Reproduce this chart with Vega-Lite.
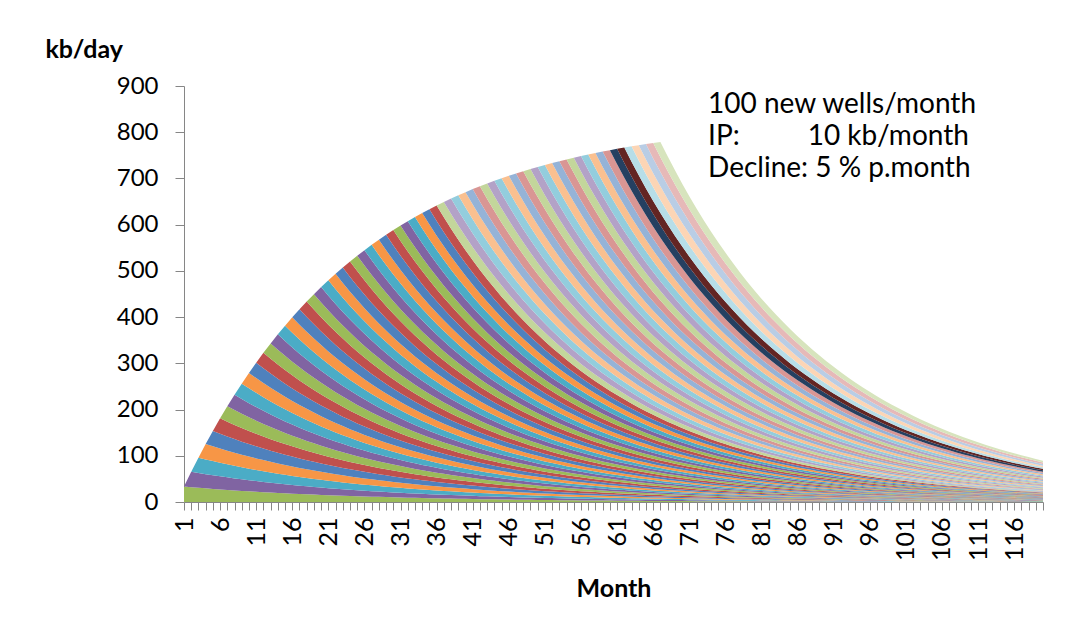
{
"$schema":"https://vega.github.io/schema/vega-lite/v6.json",
"width":859,"height":416,
"autosize":"none",
"padding":{"left":184,"top":86,"right":49,"bottom":134},
"background":"white",
"config":{"view":{"stroke":null},"font":"Lato"},
"layer":[
{
"data":{"values":"c,001,002,003,004,005,006,007,008,009,010,011,012,013,014,015,016,017,018,019,020,021,022,023,024,025,026,027,028,029,030,031,032,033,034,035,036,037,038,039,040,041,042,043,044,045,046,047,048,049,050,051,052,053,054,055,056,057,058,059,060,061,062,063,064,065,066,067,068,069,070,071,072,073,074,075,076,077,078,079,080,081,082,083,084,085,086,087,088,089,090,091,092,093,094,095,096,097,098,099,100,101,102,103,104,105,106,107,108,109,110,111,112,113,114,115,116,117,118,119,120\n1,33.3,32,30.7,29.5,28.3,27.2,26.1,25,24,23.1,22.2,21.3,20.4,19.6,18.8,18.1,17.3,16.7,16,15.3,14.7,14.1,13.6,13,12.5,12,11.5,11.1,10.6,10.2,9.8,9.4,9,8.7,8.3,8,7.7,7.4,7.1,6.8,6.5,6.2,6,5.8,5.5,5.3,5.1,4.9,4.7,4.5,4.3,4.2,4,3.8,3.7,3.5,3.4,3.3,3.1,3,2.9,2.8,2.6,2.5,2.4,2.3,2.3,2.2,2.1,2,1.9,1.8,1.8,1.7,1.6,1.6,1.5,1.4,1.4,1.3,1.3,1.2,1.2,1.1,1.1,1,1,1,.9,.9,.8,.8,.8,.7,.7,.7,.7,.6,.6,.6,.6,.5,.5,.5,.5,.5,.4,.4,.4,.4,.4,.4,.3,.3,.3,.3,.3,.3,.3,.3\n2,,33.3,32,30.7,29.5,28.3,27.2,26.1,25,24,23.1,22.2,21.3,20.4,19.6,18.8,18.1,17.3,16.7,16,15.3,14.7,14.1,13.6,13,12.5,12,11.5,11.1,10.6,10.2,9.8,9.4,9,8.7,8.3,8,7.7,7.4,7.1,6.8,6.5,6.2,6,5.8,5.5,5.3,5.1,4.9,4.7,4.5,4.3,4.2,4,3.8,3.7,3.5,3.4,3.3,3.1,3,2.9,2.8,2.6,2.5,2.4,2.3,2.3,2.2,2.1,2,1.9,1.8,1.8,1.7,1.6,1.6,1.5,1.4,1.4,1.3,1.3,1.2,1.2,1.1,1.1,1,1,1,.9,.9,.8,.8,.8,.7,.7,.7,.7,.6,.6,.6,.6,.5,.5,.5,.5,.5,.4,.4,.4,.4,.4,.4,.3,.3,.3,.3,.3,.3,.3\n3,,,33.3,32,30.7,29.5,28.3,27.2,26.1,25,24,23.1,22.2,21.3,20.4,19.6,18.8,18.1,17.3,16.7,16,15.3,14.7,14.1,13.6,13,12.5,12,11.5,11.1,10.6,10.2,9.8,9.4,9,8.7,8.3,8,7.7,7.4,7.1,6.8,6.5,6.2,6,5.8,5.5,5.3,5.1,4.9,4.7,4.5,4.3,4.2,4,3.8,3.7,3.5,3.4,3.3,3.1,3,2.9,2.8,2.6,2.5,2.4,2.3,2.3,2.2,2.1,2,1.9,1.8,1.8,1.7,1.6,1.6,1.5,1.4,1.4,1.3,1.3,1.2,1.2,1.1,1.1,1,1,1,.9,.9,.8,.8,.8,.7,.7,.7,.7,.6,.6,.6,.6,.5,.5,.5,.5,.5,.4,.4,.4,.4,.4,.4,.3,.3,.3,.3,.3,.3\n4,,,,33.3,32,30.7,29.5,28.3,27.2,26.1,25,24,23.1,22.2,21.3,20.4,19.6,18.8,18.1,17.3,16.7,16,15.3,14.7,14.1,13.6,13,12.5,12,11.5,11.1,10.6,10.2,9.8,9.4,9,8.7,8.3,8,7.7,7.4,7.1,6.8,6.5,6.2,6,5.8,5.5,5.3,5.1,4.9,4.7,4.5,4.3,4.2,4,3.8,3.7,3.5,3.4,3.3,3.1,3,2.9,2.8,2.6,2.5,2.4,2.3,2.3,2.2,2.1,2,1.9,1.8,1.8,1.7,1.6,1.6,1.5,1.4,1.4,1.3,1.3,1.2,1.2,1.1,1.1,1,1,1,.9,.9,.8,.8,.8,.7,.7,.7,.7,.6,.6,.6,.6,.5,.5,.5,.5,.5,.4,.4,.4,.4,.4,.4,.3,.3,.3,.3,.3\n5,,,,,33.3,32,30.7,29.5,28.3,27.2,26.1,25,24,23.1,22.2,21.3,20.4,19.6,18.8,18.1,17.3,16.7,16,15.3,14.7,14.1,13.6,13,12.5,12,11.5,11.1,10.6,10.2,9.8,9.4,9,8.7,8.3,8,7.7,7.4,7.1,6.8,6.5,6.2,6,5.8,5.5,5.3,5.1,4.9,4.7,4.5,4.3,4.2,4,3.8,3.7,3.5,3.4,3.3,3.1,3,2.9,2.8,2.6,2.5,2.4,2.3,2.3,2.2,2.1,2,1.9,1.8,1.8,1.7,1.6,1.6,1.5,1.4,1.4,1.3,1.3,1.2,1.2,1.1,1.1,1,1,1,.9,.9,.8,.8,.8,.7,.7,.7,.7,.6,.6,.6,.6,.5,.5,.5,.5,.5,.4,.4,.4,.4,.4,.4,.3,.3,.3,.3\n6,,,,,,33.3,32,30.7,29.5,28.3,27.2,26.1,25,24,23.1,22.2,21.3,20.4,19.6,18.8,18.1,17.3,16.7,16,15.3,14.7,14.1,13.6,13,12.5,12,11.5,11.1,10.6,10.2,9.8,9.4,9,8.7,8.3,8,7.7,7.4,7.1,6.8,6.5,6.2,6,5.8,5.5,5.3,5.1,4.9,4.7,4.5,4.3,4.2,4,3.8,3.7,3.5,3.4,3.3,3.1,3,2.9,2.8,2.6,2.5,2.4,2.3,2.3,2.2,2.1,2,1.9,1.8,1.8,1.7,1.6,1.6,1.5,1.4,1.4,1.3,1.3,1.2,1.2,1.1,1.1,1,1,1,.9,.9,.8,.8,.8,.7,.7,.7,.7,.6,.6,.6,.6,.5,.5,.5,.5,.5,.4,.4,.4,.4,.4,.4,.3,.3,.3\n7,,,,,,,33.3,32,30.7,29.5,28.3,27.2,26.1,25,24,23.1,22.2,21.3,20.4,19.6,18.8,18.1,17.3,16.7,16,15.3,14.7,14.1,13.6,13,12.5,12,11.5,11.1,10.6,10.2,9.8,9.4,9,8.7,8.3,8,7.7,7.4,7.1,6.8,6.5,6.2,6,5.8,5.5,5.3,5.1,4.9,4.7,4.5,4.3,4.2,4,3.8,3.7,3.5,3.4,3.3,3.1,3,2.9,2.8,2.6,2.5,2.4,2.3,2.3,2.2,2.1,2,1.9,1.8,1.8,1.7,1.6,1.6,1.5,1.4,1.4,1.3,1.3,1.2,1.2,1.1,1.1,1,1,1,.9,.9,.8,.8,.8,.7,.7,.7,.7,.6,.6,.6,.6,.5,.5,.5,.5,.5,.4,.4,.4,.4,.4,.4,.3,.3\n8,,,,,,,,33.3,32,30.7,29.5,28.3,27.2,26.1,25,24,23.1,22.2,21.3,20.4,19.6,18.8,18.1,17.3,16.7,16,15.3,14.7,14.1,13.6,13,12.5,12,11.5,11.1,10.6,10.2,9.8,9.4,9,8.7,8.3,8,7.7,7.4,7.1,6.8,6.5,6.2,6,5.8,5.5,5.3,5.1,4.9,4.7,4.5,4.3,4.2,4,3.8,3.7,3.5,3.4,3.3,3.1,3,2.9,2.8,2.6,2.5,2.4,2.3,2.3,2.2,2.1,2,1.9,1.8,1.8,1.7,1.6,1.6,1.5,1.4,1.4,1.3,1.3,1.2,1.2,1.1,1.1,1,1,1,.9,.9,.8,.8,.8,.7,.7,.7,.7,.6,.6,.6,.6,.5,.5,.5,.5,.5,.4,.4,.4,.4,.4,.4,.3\n9,,,,,,,,,33.3,32,30.7,29.5,28.3,27.2,26.1,25,24,23.1,22.2,21.3,20.4,19.6,18.8,18.1,17.3,16.7,16,15.3,14.7,14.1,13.6,13,12.5,12,11.5,11.1,10.6,10.2,9.8,9.4,9,8.7,8.3,8,7.7,7.4,7.1,6.8,6.5,6.2,6,5.8,5.5,5.3,5.1,4.9,4.7,4.5,4.3,4.2,4,3.8,3.7,3.5,3.4,3.3,3.1,3,2.9,2.8,2.6,2.5,2.4,2.3,2.3,2.2,2.1,2,1.9,1.8,1.8,1.7,1.6,1.6,1.5,1.4,1.4,1.3,1.3,1.2,1.2,1.1,1.1,1,1,1,.9,.9,.8,.8,.8,.7,.7,.7,.7,.6,.6,.6,.6,.5,.5,.5,.5,.5,.4,.4,.4,.4,.4,.4\n10,,,,,,,,,,33.3,32,30.7,29.5,28.3,27.2,26.1,25,24,23.1,22.2,21.3,20.4,19.6,18.8,18.1,17.3,16.7,16,15.3,14.7,14.1,13.6,13,12.5,12,11.5,11.1,10.6,10.2,9.8,9.4,9,8.7,8.3,8,7.7,7.4,7.1,6.8,6.5,6.2,6,5.8,5.5,5.3,5.1,4.9,4.7,4.5,4.3,4.2,4,3.8,3.7,3.5,3.4,3.3,3.1,3,2.9,2.8,2.6,2.5,2.4,2.3,2.3,2.2,2.1,2,1.9,1.8,1.8,1.7,1.6,1.6,1.5,1.4,1.4,1.3,1.3,1.2,1.2,1.1,1.1,1,1,1,.9,.9,.8,.8,.8,.7,.7,.7,.7,.6,.6,.6,.6,.5,.5,.5,.5,.5,.4,.4,.4,.4,.4\n11,,,,,,,,,,,33.3,32,30.7,29.5,28.3,27.2,26.1,25,24,23.1,22.2,21.3,20.4,19.6,18.8,18.1,17.3,16.7,16,15.3,14.7,14.1,13.6,13,12.5,12,11.5,11.1,10.6,10.2,9.8,9.4,9,8.7,8.3,8,7.7,7.4,7.1,6.8,6.5,6.2,6,5.8,5.5,5.3,5.1,4.9,4.7,4.5,4.3,4.2,4,3.8,3.7,3.5,3.4,3.3,3.1,3,2.9,2.8,2.6,2.5,2.4,2.3,2.3,2.2,2.1,2,1.9,1.8,1.8,1.7,1.6,1.6,1.5,1.4,1.4,1.3,1.3,1.2,1.2,1.1,1.1,1,1,1,.9,.9,.8,.8,.8,.7,.7,.7,.7,.6,.6,.6,.6,.5,.5,.5,.5,.5,.4,.4,.4,.4\n12,,,,,,,,,,,,33.3,32,30.7,29.5,28.3,27.2,26.1,25,24,23.1,22.2,21.3,20.4,19.6,18.8,18.1,17.3,16.7,16,15.3,14.7,14.1,13.6,13,12.5,12,11.5,11.1,10.6,10.2,9.8,9.4,9,8.7,8.3,8,7.7,7.4,7.1,6.8,6.5,6.2,6,5.8,5.5,5.3,5.1,4.9,4.7,4.5,4.3,4.2,4,3.8,3.7,3.5,3.4,3.3,3.1,3,2.9,2.8,2.6,2.5,2.4,2.3,2.3,2.2,2.1,2,1.9,1.8,1.8,1.7,1.6,1.6,1.5,1.4,1.4,1.3,1.3,1.2,1.2,1.1,1.1,1,1,1,.9,.9,.8,.8,.8,.7,.7,.7,.7,.6,.6,.6,.6,.5,.5,.5,.5,.5,.4,.4,.4\n13,,,,,,,,,,,,,33.3,32,30.7,29.5,28.3,27.2,26.1,25,24,23.1,22.2,21.3,20.4,19.6,18.8,18.1,17.3,16.7,16,15.3,14.7,14.1,13.6,13,12.5,12,11.5,11.1,10.6,10.2,9.8,9.4,9,8.7,8.3,8,7.7,7.4,7.1,6.8,6.5,6.2,6,5.8,5.5,5.3,5.1,4.9,4.7,4.5,4.3,4.2,4,3.8,3.7,3.5,3.4,3.3,3.1,3,2.9,2.8,2.6,2.5,2.4,2.3,2.3,2.2,2.1,2,1.9,1.8,1.8,1.7,1.6,1.6,1.5,1.4,1.4,1.3,1.3,1.2,1.2,1.1,1.1,1,1,1,.9,.9,.8,.8,.8,.7,.7,.7,.7,.6,.6,.6,.6,.5,.5,.5,.5,.5,.4,.4\n14,,,,,,,,,,,,,,33.3,32,30.7,29.5,28.3,27.2,26.1,25,24,23.1,22.2,21.3,20.4,19.6,18.8,18.1,17.3,16.7,16,15.3,14.7,14.1,13.6,13,12.5,12,11.5,11.1,10.6,10.2,9.8,9.4,9,8.7,8.3,8,7.7,7.4,7.1,6.8,6.5,6.2,6,5.8,5.5,5.3,5.1,4.9,4.7,4.5,4.3,4.2,4,3.8,3.7,3.5,3.4,3.3,3.1,3,2.9,2.8,2.6,2.5,2.4,2.3,2.3,2.2,2.1,2,1.9,1.8,1.8,1.7,1.6,1.6,1.5,1.4,1.4,1.3,1.3,1.2,1.2,1.1,1.1,1,1,1,.9,.9,.8,.8,.8,.7,.7,.7,.7,.6,.6,.6,.6,.5,.5,.5,.5,.5,.4\n15,,,,,,,,,,,,,,,33.3,32,30.7,29.5,28.3,27.2,26.1,25,24,23.1,22.2,21.3,20.4,19.6,18.8,18.1,17.3,16.7,16,15.3,14.7,14.1,13.6,13,12.5,12,11.5,11.1,10.6,10.2,9.8,9.4,9,8.7,8.3,8,7.7,7.4,7.1,6.8,6.5,6.2,6,5.8,5.5,5.3,5.1,4.9,4.7,4.5,4.3,4.2,4,3.8,3.7,3.5,3.4,3.3,3.1,3,2.9,2.8,2.6,2.5,2.4,2.3,2.3,2.2,2.1,2,1.9,1.8,1.8,1.7,1.6,1.6,1.5,1.4,1.4,1.3,1.3,1.2,1.2,1.1,1.1,1,1,1,.9,.9,.8,.8,.8,.7,.7,.7,.7,.6,.6,.6,.6,.5,.5,.5,.5,.5\n16,,,,,,,,,,,,,,,,33.3,32,30.7,29.5,28.3,27.2,26.1,25,24,23.1,22.2,21.3,20.4,19.6,18.8,18.1,17.3,16.7,16,15.3,14.7,14.1,13.6,13,12.5,12,11.5,11.1,10.6,10.2,9.8,9.4,9,8.7,8.3,8,7.7,7.4,7.1,6.8,6.5,6.2,6,5.8,5.5,5.3,5.1,4.9,4.7,4.5,4.3,4.2,4,3.8,3.7,3.5,3.4,3.3,3.1,3,2.9,2.8,2.6,2.5,2.4,2.3,2.3,2.2,2.1,2,1.9,1.8,1.8,1.7,1.6,1.6,1.5,1.4,1.4,1.3,1.3,1.2,1.2,1.1,1.1,1,1,1,.9,.9,.8,.8,.8,.7,.7,.7,.7,.6,.6,.6,.6,.5,.5,.5,.5\n17,,,,,,,,,,,,,,,,,33.3,32,30.7,29.5,28.3,27.2,26.1,25,24,23.1,22.2,21.3,20.4,19.6,18.8,18.1,17.3,16.7,16,15.3,14.7,14.1,13.6,13,12.5,12,11.5,11.1,10.6,10.2,9.8,9.4,9,8.7,8.3,8,7.7,7.4,7.1,6.8,6.5,6.2,6,5.8,5.5,5.3,5.1,4.9,4.7,4.5,4.3,4.2,4,3.8,3.7,3.5,3.4,3.3,3.1,3,2.9,2.8,2.6,2.5,2.4,2.3,2.3,2.2,2.1,2,1.9,1.8,1.8,1.7,1.6,1.6,1.5,1.4,1.4,1.3,1.3,1.2,1.2,1.1,1.1,1,1,1,.9,.9,.8,.8,.8,.7,.7,.7,.7,.6,.6,.6,.6,.5,.5,.5\n18,,,,,,,,,,,,,,,,,,33.3,32,30.7,29.5,28.3,27.2,26.1,25,24,23.1,22.2,21.3,20.4,19.6,18.8,18.1,17.3,16.7,16,15.3,14.7,14.1,13.6,13,12.5,12,11.5,11.1,10.6,10.2,9.8,9.4,9,8.7,8.3,8,7.7,7.4,7.1,6.8,6.5,6.2,6,5.8,5.5,5.3,5.1,4.9,4.7,4.5,4.3,4.2,4,3.8,3.7,3.5,3.4,3.3,3.1,3,2.9,2.8,2.6,2.5,2.4,2.3,2.3,2.2,2.1,2,1.9,1.8,1.8,1.7,1.6,1.6,1.5,1.4,1.4,1.3,1.3,1.2,1.2,1.1,1.1,1,1,1,.9,.9,.8,.8,.8,.7,.7,.7,.7,.6,.6,.6,.6,.5,.5\n19,,,,,,,,,,,,,,,,,,,33.3,32,30.7,29.5,28.3,27.2,26.1,25,24,23.1,22.2,21.3,20.4,19.6,18.8,18.1,17.3,16.7,16,15.3,14.7,14.1,13.6,13,12.5,12,11.5,11.1,10.6,10.2,9.8,9.4,9,8.7,8.3,8,7.7,7.4,7.1,6.8,6.5,6.2,6,5.8,5.5,5.3,5.1,4.9,4.7,4.5,4.3,4.2,4,3.8,3.7,3.5,3.4,3.3,3.1,3,2.9,2.8,2.6,2.5,2.4,2.3,2.3,2.2,2.1,2,1.9,1.8,1.8,1.7,1.6,1.6,1.5,1.4,1.4,1.3,1.3,1.2,1.2,1.1,1.1,1,1,1,.9,.9,.8,.8,.8,.7,.7,.7,.7,.6,.6,.6,.6,.5\n20,,,,,,,,,,,,,,,,,,,,33.3,32,30.7,29.5,28.3,27.2,26.1,25,24,23.1,22.2,21.3,20.4,19.6,18.8,18.1,17.3,16.7,16,15.3,14.7,14.1,13.6,13,12.5,12,11.5,11.1,10.6,10.2,9.8,9.4,9,8.7,8.3,8,7.7,7.4,7.1,6.8,6.5,6.2,6,5.8,5.5,5.3,5.1,4.9,4.7,4.5,4.3,4.2,4,3.8,3.7,3.5,3.4,3.3,3.1,3,2.9,2.8,2.6,2.5,2.4,2.3,2.3,2.2,2.1,2,1.9,1.8,1.8,1.7,1.6,1.6,1.5,1.4,1.4,1.3,1.3,1.2,1.2,1.1,1.1,1,1,1,.9,.9,.8,.8,.8,.7,.7,.7,.7,.6,.6,.6,.6\n21,,,,,,,,,,,,,,,,,,,,,33.3,32,30.7,29.5,28.3,27.2,26.1,25,24,23.1,22.2,21.3,20.4,19.6,18.8,18.1,17.3,16.7,16,15.3,14.7,14.1,13.6,13,12.5,12,11.5,11.1,10.6,10.2,9.8,9.4,9,8.7,8.3,8,7.7,7.4,7.1,6.8,6.5,6.2,6,5.8,5.5,5.3,5.1,4.9,4.7,4.5,4.3,4.2,4,3.8,3.7,3.5,3.4,3.3,3.1,3,2.9,2.8,2.6,2.5,2.4,2.3,2.3,2.2,2.1,2,1.9,1.8,1.8,1.7,1.6,1.6,1.5,1.4,1.4,1.3,1.3,1.2,1.2,1.1,1.1,1,1,1,.9,.9,.8,.8,.8,.7,.7,.7,.7,.6,.6,.6\n22,,,,,,,,,,,,,,,,,,,,,,33.3,32,30.7,29.5,28.3,27.2,26.1,25,24,23.1,22.2,21.3,20.4,19.6,18.8,18.1,17.3,16.7,16,15.3,14.7,14.1,13.6,13,12.5,12,11.5,11.1,10.6,10.2,9.8,9.4,9,8.7,8.3,8,7.7,7.4,7.1,6.8,6.5,6.2,6,5.8,5.5,5.3,5.1,4.9,4.7,4.5,4.3,4.2,4,3.8,3.7,3.5,3.4,3.3,3.1,3,2.9,2.8,2.6,2.5,2.4,2.3,2.3,2.2,2.1,2,1.9,1.8,1.8,1.7,1.6,1.6,1.5,1.4,1.4,1.3,1.3,1.2,1.2,1.1,1.1,1,1,1,.9,.9,.8,.8,.8,.7,.7,.7,.7,.6,.6\n23,,,,,,,,,,,,,,,,,,,,,,,33.3,32,30.7,29.5,28.3,27.2,26.1,25,24,23.1,22.2,21.3,20.4,19.6,18.8,18.1,17.3,16.7,16,15.3,14.7,14.1,13.6,13,12.5,12,11.5,11.1,10.6,10.2,9.8,9.4,9,8.7,8.3,8,7.7,7.4,7.1,6.8,6.5,6.2,6,5.8,5.5,5.3,5.1,4.9,4.7,4.5,4.3,4.2,4,3.8,3.7,3.5,3.4,3.3,3.1,3,2.9,2.8,2.6,2.5,2.4,2.3,2.3,2.2,2.1,2,1.9,1.8,1.8,1.7,1.6,1.6,1.5,1.4,1.4,1.3,1.3,1.2,1.2,1.1,1.1,1,1,1,.9,.9,.8,.8,.8,.7,.7,.7,.7,.6\n24,,,,,,,,,,,,,,,,,,,,,,,,33.3,32,30.7,29.5,28.3,27.2,26.1,25,24,23.1,22.2,21.3,20.4,19.6,18.8,18.1,17.3,16.7,16,15.3,14.7,14.1,13.6,13,12.5,12,11.5,11.1,10.6,10.2,9.8,9.4,9,8.7,8.3,8,7.7,7.4,7.1,6.8,6.5,6.2,6,5.8,5.5,5.3,5.1,4.9,4.7,4.5,4.3,4.2,4,3.8,3.7,3.5,3.4,3.3,3.1,3,2.9,2.8,2.6,2.5,2.4,2.3,2.3,2.2,2.1,2,1.9,1.8,1.8,1.7,1.6,1.6,1.5,1.4,1.4,1.3,1.3,1.2,1.2,1.1,1.1,1,1,1,.9,.9,.8,.8,.8,.7,.7,.7,.7\n25,,,,,,,,,,,,,,,,,,,,,,,,,33.3,32,30.7,29.5,28.3,27.2,26.1,25,24,23.1,22.2,21.3,20.4,19.6,18.8,18.1,17.3,16.7,16,15.3,14.7,14.1,13.6,13,12.5,12,11.5,11.1,10.6,10.2,9.8,9.4,9,8.7,8.3,8,7.7,7.4,7.1,6.8,6.5,6.2,6,5.8,5.5,5.3,5.1,4.9,4.7,4.5,4.3,4.2,4,3.8,3.7,3.5,3.4,3.3,3.1,3,2.9,2.8,2.6,2.5,2.4,2.3,2.3,2.2,2.1,2,1.9,1.8,1.8,1.7,1.6,1.6,1.5,1.4,1.4,1.3,1.3,1.2,1.2,1.1,1.1,1,1,1,.9,.9,.8,.8,.8,.7,.7,.7\n26,,,,,,,,,,,,,,,,,,,,,,,,,,33.3,32,30.7,29.5,28.3,27.2,26.1,25,24,23.1,22.2,21.3,20.4,19.6,18.8,18.1,17.3,16.7,16,15.3,14.7,14.1,13.6,13,12.5,12,11.5,11.1,10.6,10.2,9.8,9.4,9,8.7,8.3,8,7.7,7.4,7.1,6.8,6.5,6.2,6,5.8,5.5,5.3,5.1,4.9,4.7,4.5,4.3,4.2,4,3.8,3.7,3.5,3.4,3.3,3.1,3,2.9,2.8,2.6,2.5,2.4,2.3,2.3,2.2,2.1,2,1.9,1.8,1.8,1.7,1.6,1.6,1.5,1.4,1.4,1.3,1.3,1.2,1.2,1.1,1.1,1,1,1,.9,.9,.8,.8,.8,.7,.7\n27,,,,,,,,,,,,,,,,,,,,,,,,,,,33.3,32,30.7,29.5,28.3,27.2,26.1,25,24,23.1,22.2,21.3,20.4,19.6,18.8,18.1,17.3,16.7,16,15.3,14.7,14.1,13.6,13,12.5,12,11.5,11.1,10.6,10.2,9.8,9.4,9,8.7,8.3,8,7.7,7.4,7.1,6.8,6.5,6.2,6,5.8,5.5,5.3,5.1,4.9,4.7,4.5,4.3,4.2,4,3.8,3.7,3.5,3.4,3.3,3.1,3,2.9,2.8,2.6,2.5,2.4,2.3,2.3,2.2,2.1,2,1.9,1.8,1.8,1.7,1.6,1.6,1.5,1.4,1.4,1.3,1.3,1.2,1.2,1.1,1.1,1,1,1,.9,.9,.8,.8,.8,.7\n28,,,,,,,,,,,,,,,,,,,,,,,,,,,,33.3,32,30.7,29.5,28.3,27.2,26.1,25,24,23.1,22.2,21.3,20.4,19.6,18.8,18.1,17.3,16.7,16,15.3,14.7,14.1,13.6,13,12.5,12,11.5,11.1,10.6,10.2,9.8,9.4,9,8.7,8.3,8,7.7,7.4,7.1,6.8,6.5,6.2,6,5.8,5.5,5.3,5.1,4.9,4.7,4.5,4.3,4.2,4,3.8,3.7,3.5,3.4,3.3,3.1,3,2.9,2.8,2.6,2.5,2.4,2.3,2.3,2.2,2.1,2,1.9,1.8,1.8,1.7,1.6,1.6,1.5,1.4,1.4,1.3,1.3,1.2,1.2,1.1,1.1,1,1,1,.9,.9,.8,.8,.8\n29,,,,,,,,,,,,,,,,,,,,,,,,,,,,,33.3,32,30.7,29.5,28.3,27.2,26.1,25,24,23.1,22.2,21.3,20.4,19.6,18.8,18.1,17.3,16.7,16,15.3,14.7,14.1,13.6,13,12.5,12,11.5,11.1,10.6,10.2,9.8,9.4,9,8.7,8.3,8,7.7,7.4,7.1,6.8,6.5,6.2,6,5.8,5.5,5.3,5.1,4.9,4.7,4.5,4.3,4.2,4,3.8,3.7,3.5,3.4,3.3,3.1,3,2.9,2.8,2.6,2.5,2.4,2.3,2.3,2.2,2.1,2,1.9,1.8,1.8,1.7,1.6,1.6,1.5,1.4,1.4,1.3,1.3,1.2,1.2,1.1,1.1,1,1,1,.9,.9,.8,.8\n30,,,,,,,,,,,,,,,,,,,,,,,,,,,,,,33.3,32,30.7,29.5,28.3,27.2,26.1,25,24,23.1,22.2,21.3,20.4,19.6,18.8,18.1,17.3,16.7,16,15.3,14.7,14.1,13.6,13,12.5,12,11.5,11.1,10.6,10.2,9.8,9.4,9,8.7,8.3,8,7.7,7.4,7.1,6.8,6.5,6.2,6,5.8,5.5,5.3,5.1,4.9,4.7,4.5,4.3,4.2,4,3.8,3.7,3.5,3.4,3.3,3.1,3,2.9,2.8,2.6,2.5,2.4,2.3,2.3,2.2,2.1,2,1.9,1.8,1.8,1.7,1.6,1.6,1.5,1.4,1.4,1.3,1.3,1.2,1.2,1.1,1.1,1,1,1,.9,.9,.8\n31,,,,,,,,,,,,,,,,,,,,,,,,,,,,,,,33.3,32,30.7,29.5,28.3,27.2,26.1,25,24,23.1,22.2,21.3,20.4,19.6,18.8,18.1,17.3,16.7,16,15.3,14.7,14.1,13.6,13,12.5,12,11.5,11.1,10.6,10.2,9.8,9.4,9,8.7,8.3,8,7.7,7.4,7.1,6.8,6.5,6.2,6,5.8,5.5,5.3,5.1,4.9,4.7,4.5,4.3,4.2,4,3.8,3.7,3.5,3.4,3.3,3.1,3,2.9,2.8,2.6,2.5,2.4,2.3,2.3,2.2,2.1,2,1.9,1.8,1.8,1.7,1.6,1.6,1.5,1.4,1.4,1.3,1.3,1.2,1.2,1.1,1.1,1,1,1,.9,.9\n32,,,,,,,,,,,,,,,,,,,,,,,,,,,,,,,,33.3,32,30.7,29.5,28.3,27.2,26.1,25,24,23.1,22.2,21.3,20.4,19.6,18.8,18.1,17.3,16.7,16,15.3,14.7,14.1,13.6,13,12.5,12,11.5,11.1,10.6,10.2,9.8,9.4,9,8.7,8.3,8,7.7,7.4,7.1,6.8,6.5,6.2,6,5.8,5.5,5.3,5.1,4.9,4.7,4.5,4.3,4.2,4,3.8,3.7,3.5,3.4,3.3,3.1,3,2.9,2.8,2.6,2.5,2.4,2.3,2.3,2.2,2.1,2,1.9,1.8,1.8,1.7,1.6,1.6,1.5,1.4,1.4,1.3,1.3,1.2,1.2,1.1,1.1,1,1,1,.9\n33,,,,,,,,,,,,,,,,,,,,,,,,,,,,,,,,,33.3,32,30.7,29.5,28.3,27.2,26.1,25,24,23.1,22.2,21.3,20.4,19.6,18.8,18.1,17.3,16.7,16,15.3,14.7,14.1,13.6,13,12.5,12,11.5,11.1,10.6,10.2,9.8,9.4,9,8.7,8.3,8,7.7,7.4,7.1,6.8,6.5,6.2,6,5.8,5.5,5.3,5.1,4.9,4.7,4.5,4.3,4.2,4,3.8,3.7,3.5,3.4,3.3,3.1,3,2.9,2.8,2.6,2.5,2.4,2.3,2.3,2.2,2.1,2,1.9,1.8,1.8,1.7,1.6,1.6,1.5,1.4,1.4,1.3,1.3,1.2,1.2,1.1,1.1,1,1,1\n34,,,,,,,,,,,,,,,,,,,,,,,,,,,,,,,,,,33.3,32,30.7,29.5,28.3,27.2,26.1,25,24,23.1,22.2,21.3,20.4,19.6,18.8,18.1,17.3,16.7,16,15.3,14.7,14.1,13.6,13,12.5,12,11.5,11.1,10.6,10.2,9.8,9.4,9,8.7,8.3,8,7.7,7.4,7.1,6.8,6.5,6.2,6,5.8,5.5,5.3,5.1,4.9,4.7,4.5,4.3,4.2,4,3.8,3.7,3.5,3.4,3.3,3.1,3,2.9,2.8,2.6,2.5,2.4,2.3,2.3,2.2,2.1,2,1.9,1.8,1.8,1.7,1.6,1.6,1.5,1.4,1.4,1.3,1.3,1.2,1.2,1.1,1.1,1,1\n35,,,,,,,,,,,,,,,,,,,,,,,,,,,,,,,,,,,33.3,32,30.7,29.5,28.3,27.2,26.1,25,24,23.1,22.2,21.3,20.4,19.6,18.8,18.1,17.3,16.7,16,15.3,14.7,14.1,13.6,13,12.5,12,11.5,11.1,10.6,10.2,9.8,9.4,9,8.7,8.3,8,7.7,7.4,7.1,6.8,6.5,6.2,6,5.8,5.5,5.3,5.1,4.9,4.7,4.5,4.3,4.2,4,3.8,3.7,3.5,3.4,3.3,3.1,3,2.9,2.8,2.6,2.5,2.4,2.3,2.3,2.2,2.1,2,1.9,1.8,1.8,1.7,1.6,1.6,1.5,1.4,1.4,1.3,1.3,1.2,1.2,1.1,1.1,1\n36,,,,,,,,,,,,,,,,,,,,,,,,,,,,,,,,,,,,33.3,32,30.7,29.5,28.3,27.2,26.1,25,24,23.1,22.2,21.3,20.4,19.6,18.8,18.1,17.3,16.7,16,15.3,14.7,14.1,13.6,13,12.5,12,11.5,11.1,10.6,10.2,9.8,9.4,9,8.7,8.3,8,7.7,7.4,7.1,6.8,6.5,6.2,6,5.8,5.5,5.3,5.1,4.9,4.7,4.5,4.3,4.2,4,3.8,3.7,3.5,3.4,3.3,3.1,3,2.9,2.8,2.6,2.5,2.4,2.3,2.3,2.2,2.1,2,1.9,1.8,1.8,1.7,1.6,1.6,1.5,1.4,1.4,1.3,1.3,1.2,1.2,1.1,1.1\n37,,,,,,,,,,,,,,,,,,,,,,,,,,,,,,,,,,,,,33.3,32,30.7,29.5,28.3,27.2,26.1,25,24,23.1,22.2,21.3,20.4,19.6,18.8,18.1,17.3,16.7,16,15.3,14.7,14.1,13.6,13,12.5,12,11.5,11.1,10.6,10.2,9.8,9.4,9,8.7,8.3,8,7.7,7.4,7.1,6.8,6.5,6.2,6,5.8,5.5,5.3,5.1,4.9,4.7,4.5,4.3,4.2,4,3.8,3.7,3.5,3.4,3.3,3.1,3,2.9,2.8,2.6,2.5,2.4,2.3,2.3,2.2,2.1,2,1.9,1.8,1.8,1.7,1.6,1.6,1.5,1.4,1.4,1.3,1.3,1.2,1.2,1.1\n38,,,,,,,,,,,,,,,,,,,,,,,,,,,,,,,,,,,,,,33.3,32,30.7,29.5,28.3,27.2,26.1,25,24,23.1,22.2,21.3,20.4,19.6,18.8,18.1,17.3,16.7,16,15.3,14.7,14.1,13.6,13,12.5,12,11.5,11.1,10.6,10.2,9.8,9.4,9,8.7,8.3,8,7.7,7.4,7.1,6.8,6.5,6.2,6,5.8,5.5,5.3,5.1,4.9,4.7,4.5,4.3,4.2,4,3.8,3.7,3.5,3.4,3.3,3.1,3,2.9,2.8,2.6,2.5,2.4,2.3,2.3,2.2,2.1,2,1.9,1.8,1.8,1.7,1.6,1.6,1.5,1.4,1.4,1.3,1.3,1.2,1.2\n39,,,,,,,,,,,,,,,,,,,,,,,,,,,,,,,,,,,,,,,33.3,32,30.7,29.5,28.3,27.2,26.1,25,24,23.1,22.2,21.3,20.4,19.6,18.8,18.1,17.3,16.7,16,15.3,14.7,14.1,13.6,13,12.5,12,11.5,11.1,10.6,10.2,9.8,9.4,9,8.7,8.3,8,7.7,7.4,7.1,6.8,6.5,6.2,6,5.8,5.5,5.3,5.1,4.9,4.7,4.5,4.3,4.2,4,3.8,3.7,3.5,3.4,3.3,3.1,3,2.9,2.8,2.6,2.5,2.4,2.3,2.3,2.2,2.1,2,1.9,1.8,1.8,1.7,1.6,1.6,1.5,1.4,1.4,1.3,1.3,1.2\n40,,,,,,,,,,,,,,,,,,,,,,,,,,,,,,,,,,,,,,,,33.3,32,30.7,29.5,28.3,27.2,26.1,25,24,23.1,22.2,21.3,20.4,19.6,18.8,18.1,17.3,16.7,16,15.3,14.7,14.1,13.6,13,12.5,12,11.5,11.1,10.6,10.2,9.8,9.4,9,8.7,8.3,8,7.7,7.4,7.1,6.8,6.5,6.2,6,5.8,5.5,5.3,5.1,4.9,4.7,4.5,4.3,4.2,4,3.8,3.7,3.5,3.4,3.3,3.1,3,2.9,2.8,2.6,2.5,2.4,2.3,2.3,2.2,2.1,2,1.9,1.8,1.8,1.7,1.6,1.6,1.5,1.4,1.4,1.3,1.3\n41,,,,,,,,,,,,,,,,,,,,,,,,,,,,,,,,,,,,,,,,,33.3,32,30.7,29.5,28.3,27.2,26.1,25,24,23.1,22.2,21.3,20.4,19.6,18.8,18.1,17.3,16.7,16,15.3,14.7,14.1,13.6,13,12.5,12,11.5,11.1,10.6,10.2,9.8,9.4,9,8.7,8.3,8,7.7,7.4,7.1,6.8,6.5,6.2,6,5.8,5.5,5.3,5.1,4.9,4.7,4.5,4.3,4.2,4,3.8,3.7,3.5,3.4,3.3,3.1,3,2.9,2.8,2.6,2.5,2.4,2.3,2.3,2.2,2.1,2,1.9,1.8,1.8,1.7,1.6,1.6,1.5,1.4,1.4,1.3\n42,,,,,,,,,,,,,,,,,,,,,,,,,,,,,,,,,,,,,,,,,,33.3,32,30.7,29.5,28.3,27.2,26.1,25,24,23.1,22.2,21.3,20.4,19.6,18.8,18.1,17.3,16.7,16,15.3,14.7,14.1,13.6,13,12.5,12,11.5,11.1,10.6,10.2,9.8,9.4,9,8.7,8.3,8,7.7,7.4,7.1,6.8,6.5,6.2,6,5.8,5.5,5.3,5.1,4.9,4.7,4.5,4.3,4.2,4,3.8,3.7,3.5,3.4,3.3,3.1,3,2.9,2.8,2.6,2.5,2.4,2.3,2.3,2.2,2.1,2,1.9,1.8,1.8,1.7,1.6,1.6,1.5,1.4,1.4\n43,,,,,,,,,,,,,,,,,,,,,,,,,,,,,,,,,,,,,,,,,,,33.3,32,30.7,29.5,28.3,27.2,26.1,25,24,23.1,22.2,21.3,20.4,19.6,18.8,18.1,17.3,16.7,16,15.3,14.7,14.1,13.6,13,12.5,12,11.5,11.1,10.6,10.2,9.8,9.4,9,8.7,8.3,8,7.7,7.4,7.1,6.8,6.5,6.2,6,5.8,5.5,5.3,5.1,4.9,4.7,4.5,4.3,4.2,4,3.8,3.7,3.5,3.4,3.3,3.1,3,2.9,2.8,2.6,2.5,2.4,2.3,2.3,2.2,2.1,2,1.9,1.8,1.8,1.7,1.6,1.6,1.5,1.4\n44,,,,,,,,,,,,,,,,,,,,,,,,,,,,,,,,,,,,,,,,,,,,33.3,32,30.7,29.5,28.3,27.2,26.1,25,24,23.1,22.2,21.3,20.4,19.6,18.8,18.1,17.3,16.7,16,15.3,14.7,14.1,13.6,13,12.5,12,11.5,11.1,10.6,10.2,9.8,9.4,9,8.7,8.3,8,7.7,7.4,7.1,6.8,6.5,6.2,6,5.8,5.5,5.3,5.1,4.9,4.7,4.5,4.3,4.2,4,3.8,3.7,3.5,3.4,3.3,3.1,3,2.9,2.8,2.6,2.5,2.4,2.3,2.3,2.2,2.1,2,1.9,1.8,1.8,1.7,1.6,1.6,1.5\n45,,,,,,,,,,,,,,,,,,,,,,,,,,,,,,,,,,,,,,,,,,,,,33.3,32,30.7,29.5,28.3,27.2,26.1,25,24,23.1,22.2,21.3,20.4,19.6,18.8,18.1,17.3,16.7,16,15.3,14.7,14.1,13.6,13,12.5,12,11.5,11.1,10.6,10.2,9.8,9.4,9,8.7,8.3,8,7.7,7.4,7.1,6.8,6.5,6.2,6,5.8,5.5,5.3,5.1,4.9,4.7,4.5,4.3,4.2,4,3.8,3.7,3.5,3.4,3.3,3.1,3,2.9,2.8,2.6,2.5,2.4,2.3,2.3,2.2,2.1,2,1.9,1.8,1.8,1.7,1.6,1.6\n46,,,,,,,,,,,,,,,,,,,,,,,,,,,,,,,,,,,,,,,,,,,,,,33.3,32,30.7,29.5,28.3,27.2,26.1,25,24,23.1,22.2,21.3,20.4,19.6,18.8,18.1,17.3,16.7,16,15.3,14.7,14.1,13.6,13,12.5,12,11.5,11.1,10.6,10.2,9.8,9.4,9,8.7,8.3,8,7.7,7.4,7.1,6.8,6.5,6.2,6,5.8,5.5,5.3,5.1,4.9,4.7,4.5,4.3,4.2,4,3.8,3.7,3.5,3.4,3.3,3.1,3,2.9,2.8,2.6,2.5,2.4,2.3,2.3,2.2,2.1,2,1.9,1.8,1.8,1.7,1.6\n47,,,,,,,,,,,,,,,,,,,,,,,,,,,,,,,,,,,,,,,,,,,,,,,33.3,32,30.7,29.5,28.3,27.2,26.1,25,24,23.1,22.2,21.3,20.4,19.6,18.8,18.1,17.3,16.7,16,15.3,14.7,14.1,13.6,13,12.5,12,11.5,11.1,10.6,10.2,9.8,9.4,9,8.7,8.3,8,7.7,7.4,7.1,6.8,6.5,6.2,6,5.8,5.5,5.3,5.1,4.9,4.7,4.5,4.3,4.2,4,3.8,3.7,3.5,3.4,3.3,3.1,3,2.9,2.8,2.6,2.5,2.4,2.3,2.3,2.2,2.1,2,1.9,1.8,1.8,1.7\n48,,,,,,,,,,,,,,,,,,,,,,,,,,,,,,,,,,,,,,,,,,,,,,,,33.3,32,30.7,29.5,28.3,27.2,26.1,25,24,23.1,22.2,21.3,20.4,19.6,18.8,18.1,17.3,16.7,16,15.3,14.7,14.1,13.6,13,12.5,12,11.5,11.1,10.6,10.2,9.8,9.4,9,8.7,8.3,8,7.7,7.4,7.1,6.8,6.5,6.2,6,5.8,5.5,5.3,5.1,4.9,4.7,4.5,4.3,4.2,4,3.8,3.7,3.5,3.4,3.3,3.1,3,2.9,2.8,2.6,2.5,2.4,2.3,2.3,2.2,2.1,2,1.9,1.8,1.8\n49,,,,,,,,,,,,,,,,,,,,,,,,,,,,,,,,,,,,,,,,,,,,,,,,,33.3,32,30.7,29.5,28.3,27.2,26.1,25,24,23.1,22.2,21.3,20.4,19.6,18.8,18.1,17.3,16.7,16,15.3,14.7,14.1,13.6,13,12.5,12,11.5,11.1,10.6,10.2,9.8,9.4,9,8.7,8.3,8,7.7,7.4,7.1,6.8,6.5,6.2,6,5.8,5.5,5.3,5.1,4.9,4.7,4.5,4.3,4.2,4,3.8,3.7,3.5,3.4,3.3,3.1,3,2.9,2.8,2.6,2.5,2.4,2.3,2.3,2.2,2.1,2,1.9,1.8\n50,,,,,,,,,,,,,,,,,,,,,,,,,,,,,,,,,,,,,,,,,,,,,,,,,,33.3,32,30.7,29.5,28.3,27.2,26.1,25,24,23.1,22.2,21.3,20.4,19.6,18.8,18.1,17.3,16.7,16,15.3,14.7,14.1,13.6,13,12.5,12,11.5,11.1,10.6,10.2,9.8,9.4,9,8.7,8.3,8,7.7,7.4,7.1,6.8,6.5,6.2,6,5.8,5.5,5.3,5.1,4.9,4.7,4.5,4.3,4.2,4,3.8,3.7,3.5,3.4,3.3,3.1,3,2.9,2.8,2.6,2.5,2.4,2.3,2.3,2.2,2.1,2,1.9\n51,,,,,,,,,,,,,,,,,,,,,,,,,,,,,,,,,,,,,,,,,,,,,,,,,,,33.3,32,30.7,29.5,28.3,27.2,26.1,25,24,23.1,22.2,21.3,20.4,19.6,18.8,18.1,17.3,16.7,16,15.3,14.7,14.1,13.6,13,12.5,12,11.5,11.1,10.6,10.2,9.8,9.4,9,8.7,8.3,8,7.7,7.4,7.1,6.8,6.5,6.2,6,5.8,5.5,5.3,5.1,4.9,4.7,4.5,4.3,4.2,4,3.8,3.7,3.5,3.4,3.3,3.1,3,2.9,2.8,2.6,2.5,2.4,2.3,2.3,2.2,2.1,2\n52,,,,,,,,,,,,,,,,,,,,,,,,,,,,,,,,,,,,,,,,,,,,,,,,,,,,33.3,32,30.7,29.5,28.3,27.2,26.1,25,24,23.1,22.2,21.3,20.4,19.6,18.8,18.1,17.3,16.7,16,15.3,14.7,14.1,13.6,13,12.5,12,11.5,11.1,10.6,10.2,9.8,9.4,9,8.7,8.3,8,7.7,7.4,7.1,6.8,6.5,6.2,6,5.8,5.5,5.3,5.1,4.9,4.7,4.5,4.3,4.2,4,3.8,3.7,3.5,3.4,3.3,3.1,3,2.9,2.8,2.6,2.5,2.4,2.3,2.3,2.2,2.1\n53,,,,,,,,,,,,,,,,,,,,,,,,,,,,,,,,,,,,,,,,,,,,,,,,,,,,,33.3,32,30.7,29.5,28.3,27.2,26.1,25,24,23.1,22.2,21.3,20.4,19.6,18.8,18.1,17.3,16.7,16,15.3,14.7,14.1,13.6,13,12.5,12,11.5,11.1,10.6,10.2,9.8,9.4,9,8.7,8.3,8,7.7,7.4,7.1,6.8,6.5,6.2,6,5.8,5.5,5.3,5.1,4.9,4.7,4.5,4.3,4.2,4,3.8,3.7,3.5,3.4,3.3,3.1,3,2.9,2.8,2.6,2.5,2.4,2.3,2.3,2.2\n54,,,,,,,,,,,,,,,,,,,,,,,,,,,,,,,,,,,,,,,,,,,,,,,,,,,,,,33.3,32,30.7,29.5,28.3,27.2,26.1,25,24,23.1,22.2,21.3,20.4,19.6,18.8,18.1,17.3,16.7,16,15.3,14.7,14.1,13.6,13,12.5,12,11.5,11.1,10.6,10.2,9.8,9.4,9,8.7,8.3,8,7.7,7.4,7.1,6.8,6.5,6.2,6,5.8,5.5,5.3,5.1,4.9,4.7,4.5,4.3,4.2,4,3.8,3.7,3.5,3.4,3.3,3.1,3,2.9,2.8,2.6,2.5,2.4,2.3,2.3\n55,,,,,,,,,,,,,,,,,,,,,,,,,,,,,,,,,,,,,,,,,,,,,,,,,,,,,,,33.3,32,30.7,29.5,28.3,27.2,26.1,25,24,23.1,22.2,21.3,20.4,19.6,18.8,18.1,17.3,16.7,16,15.3,14.7,14.1,13.6,13,12.5,12,11.5,11.1,10.6,10.2,9.8,9.4,9,8.7,8.3,8,7.7,7.4,7.1,6.8,6.5,6.2,6,5.8,5.5,5.3,5.1,4.9,4.7,4.5,4.3,4.2,4,3.8,3.7,3.5,3.4,3.3,3.1,3,2.9,2.8,2.6,2.5,2.4,2.3\n56,,,,,,,,,,,,,,,,,,,,,,,,,,,,,,,,,,,,,,,,,,,,,,,,,,,,,,,,33.3,32,30.7,29.5,28.3,27.2,26.1,25,24,23.1,22.2,21.3,20.4,19.6,18.8,18.1,17.3,16.7,16,15.3,14.7,14.1,13.6,13,12.5,12,11.5,11.1,10.6,10.2,9.8,9.4,9,8.7,8.3,8,7.7,7.4,7.1,6.8,6.5,6.2,6,5.8,5.5,5.3,5.1,4.9,4.7,4.5,4.3,4.2,4,3.8,3.7,3.5,3.4,3.3,3.1,3,2.9,2.8,2.6,2.5,2.4\n57,,,,,,,,,,,,,,,,,,,,,,,,,,,,,,,,,,,,,,,,,,,,,,,,,,,,,,,,,33.3,32,30.7,29.5,28.3,27.2,26.1,25,24,23.1,22.2,21.3,20.4,19.6,18.8,18.1,17.3,16.7,16,15.3,14.7,14.1,13.6,13,12.5,12,11.5,11.1,10.6,10.2,9.8,9.4,9,8.7,8.3,8,7.7,7.4,7.1,6.8,6.5,6.2,6,5.8,5.5,5.3,5.1,4.9,4.7,4.5,4.3,4.2,4,3.8,3.7,3.5,3.4,3.3,3.1,3,2.9,2.8,2.6,2.5\n58,,,,,,,,,,,,,,,,,,,,,,,,,,,,,,,,,,,,,,,,,,,,,,,,,,,,,,,,,,33.3,32,30.7,29.5,28.3,27.2,26.1,25,24,23.1,22.2,21.3,20.4,19.6,18.8,18.1,17.3,16.7,16,15.3,14.7,14.1,13.6,13,12.5,12,11.5,11.1,10.6,10.2,9.8,9.4,9,8.7,8.3,8,7.7,7.4,7.1,6.8,6.5,6.2,6,5.8,5.5,5.3,5.1,4.9,4.7,4.5,4.3,4.2,4,3.8,3.7,3.5,3.4,3.3,3.1,3,2.9,2.8,2.6\n59,,,,,,,,,,,,,,,,,,,,,,,,,,,,,,,,,,,,,,,,,,,,,,,,,,,,,,,,,,,33.3,32,30.7,29.5,28.3,27.2,26.1,25,24,23.1,22.2,21.3,20.4,19.6,18.8,18.1,17.3,16.7,16,15.3,14.7,14.1,13.6,13,12.5,12,11.5,11.1,10.6,10.2,9.8,9.4,9,8.7,8.3,8,7.7,7.4,7.1,6.8,6.5,6.2,6,5.8,5.5,5.3,5.1,4.9,4.7,4.5,4.3,4.2,4,3.8,3.7,3.5,3.4,3.3,3.1,3,2.9,2.8\n60,,,,,,,,,,,,,,,,,,,,,,,,,,,,,,,,,,,,,,,,,,,,,,,,,,,,,,,,,,,,33.3,32,30.7,29.5,28.3,27.2,26.1,25,24,23.1,22.2,21.3,20.4,19.6,18.8,18.1,17.3,16.7,16,15.3,14.7,14.1,13.6,13,12.5,12,11.5,11.1,10.6,10.2,9.8,9.4,9,8.7,8.3,8,7.7,7.4,7.1,6.8,6.5,6.2,6,5.8,5.5,5.3,5.1,4.9,4.7,4.5,4.3,4.2,4,3.8,3.7,3.5,3.4,3.3,3.1,3,2.9\n61,,,,,,,,,,,,,,,,,,,,,,,,,,,,,,,,,,,,,,,,,,,,,,,,,,,,,,,,,,,,,33.3,32,30.7,29.5,28.3,27.2,26.1,25,24,23.1,22.2,21.3,20.4,19.6,18.8,18.1,17.3,16.7,16,15.3,14.7,14.1,13.6,13,12.5,12,11.5,11.1,10.6,10.2,9.8,9.4,9,8.7,8.3,8,7.7,7.4,7.1,6.8,6.5,6.2,6,5.8,5.5,5.3,5.1,4.9,4.7,4.5,4.3,4.2,4,3.8,3.7,3.5,3.4,3.3,3.1,3\n62,,,,,,,,,,,,,,,,,,,,,,,,,,,,,,,,,,,,,,,,,,,,,,,,,,,,,,,,,,,,,,33.3,32,30.7,29.5,28.3,27.2,26.1,25,24,23.1,22.2,21.3,20.4,19.6,18.8,18.1,17.3,16.7,16,15.3,14.7,14.1,13.6,13,12.5,12,11.5,11.1,10.6,10.2,9.8,9.4,9,8.7,8.3,8,7.7,7.4,7.1,6.8,6.5,6.2,6,5.8,5.5,5.3,5.1,4.9,4.7,4.5,4.3,4.2,4,3.8,3.7,3.5,3.4,3.3,3.1\n63,,,,,,,,,,,,,,,,,,,,,,,,,,,,,,,,,,,,,,,,,,,,,,,,,,,,,,,,,,,,,,,33.3,32,30.7,29.5,28.3,27.2,26.1,25,24,23.1,22.2,21.3,20.4,19.6,18.8,18.1,17.3,16.7,16,15.3,14.7,14.1,13.6,13,12.5,12,11.5,11.1,10.6,10.2,9.8,9.4,9,8.7,8.3,8,7.7,7.4,7.1,6.8,6.5,6.2,6,5.8,5.5,5.3,5.1,4.9,4.7,4.5,4.3,4.2,4,3.8,3.7,3.5,3.4,3.3\n64,,,,,,,,,,,,,,,,,,,,,,,,,,,,,,,,,,,,,,,,,,,,,,,,,,,,,,,,,,,,,,,,33.3,32,30.7,29.5,28.3,27.2,26.1,25,24,23.1,22.2,21.3,20.4,19.6,18.8,18.1,17.3,16.7,16,15.3,14.7,14.1,13.6,13,12.5,12,11.5,11.1,10.6,10.2,9.8,9.4,9,8.7,8.3,8,7.7,7.4,7.1,6.8,6.5,6.2,6,5.8,5.5,5.3,5.1,4.9,4.7,4.5,4.3,4.2,4,3.8,3.7,3.5,3.4\n65,,,,,,,,,,,,,,,,,,,,,,,,,,,,,,,,,,,,,,,,,,,,,,,,,,,,,,,,,,,,,,,,,33.3,32,30.7,29.5,28.3,27.2,26.1,25,24,23.1,22.2,21.3,20.4,19.6,18.8,18.1,17.3,16.7,16,15.3,14.7,14.1,13.6,13,12.5,12,11.5,11.1,10.6,10.2,9.8,9.4,9,8.7,8.3,8,7.7,7.4,7.1,6.8,6.5,6.2,6,5.8,5.5,5.3,5.1,4.9,4.7,4.5,4.3,4.2,4,3.8,3.7,3.5\n66,,,,,,,,,,,,,,,,,,,,,,,,,,,,,,,,,,,,,,,,,,,,,,,,,,,,,,,,,,,,,,,,,,33.3,32,30.7,29.5,28.3,27.2,26.1,25,24,23.1,22.2,21.3,20.4,19.6,18.8,18.1,17.3,16.7,16,15.3,14.7,14.1,13.6,13,12.5,12,11.5,11.1,10.6,10.2,9.8,9.4,9,8.7,8.3,8,7.7,7.4,7.1,6.8,6.5,6.2,6,5.8,5.5,5.3,5.1,4.9,4.7,4.5,4.3,4.2,4,3.8,3.7\n67,,,,,,,,,,,,,,,,,,,,,,,,,,,,,,,,,,,,,,,,,,,,,,,,,,,,,,,,,,,,,,,,,,,33.3,32,30.7,29.5,28.3,27.2,26.1,25,24,23.1,22.2,21.3,20.4,19.6,18.8,18.1,17.3,16.7,16,15.3,14.7,14.1,13.6,13,12.5,12,11.5,11.1,10.6,10.2,9.8,9.4,9,8.7,8.3,8,7.7,7.4,7.1,6.8,6.5,6.2,6,5.8,5.5,5.3,5.1,4.9,4.7,4.5,4.3,4.2,4,3.8","format":{"type":"csv","parse":{"c":"number"}}},
"transform":[{"fold":["001","002","003","004","005","006","007","008","009","010","011","012","013","014","015","016","017","018","019","020","021","022","023","024","025","026","027","028","029","030","031","032","033","034","035","036","037","038","039","040","041","042","043","044","045","046","047","048","049","050","051","052","053","054","055","056","057","058","059","060","061","062","063","064","065","066","067","068","069","070","071","072","073","074","075","076","077","078","079","080","081","082","083","084","085","086","087","088","089","090","091","092","093","094","095","096","097","098","099","100","101","102","103","104","105","106","107","108","109","110","111","112","113","114","115","116","117","118","119","120"],"as":["m","v"]}],
"mark":{"type":"area","interpolate":"linear"},
"encoding":{
"x":{"field":"m","type":"quantitative","scale":{"domain":[1,120],"nice":false,"zero":false},
"axis":{"values":[1,2,3,4,5,6,7,8,9,10,11,12,13,14,15,16,17,18,19,20,21,22,23,24,25,26,27,28,29,30,31,32,33,34,35,36,37,38,39,40,41,42,43,44,45,46,47,48,49,50,51,52,53,54,55,56,57,58,59,60,61,62,63,64,65,66,67,68,69,70,71,72,73,74,75,76,77,78,79,80,81,82,83,84,85,86,87,88,89,90,91,92,93,94,95,96,97,98,99,100,101,102,103,104,105,106,107,108,109,110,111,112,113,114,115,116,117,118,119,120],"tickCount":200,
"labelExpr":"(datum.value - 1) % 5 == 0 ? datum.value : ''","labelAngle":-90,"labelAlign":"right","labelBaseline":"middle","labelFont":"Lato","labelFontSize":25,"labelColor":"#000000","labelPadding":7,"labelOverlap":false,"labelFlush":false,"tickSize":8,"tickColor":"#868686","domainColor":"#868686","grid":false,
"title":"Month","titleFont":"Lato","titleFontSize":25,"titleFontWeight":"bold","titleColor":"#000000","titleAnchor":"middle","titleBaseline":"alphabetic","titleY":94}},
"y":{"field":"v","type":"quantitative","stack":"zero","scale":{"domain":[0,900],"nice":false},
"axis":{"values":[0,100,200,300,400,500,600,700,800,900],"labelFont":"Lato","labelFontSize":24,"labelColor":"#000000","labelPadding":17,"tickSize":9,"tickColor":"#868686","domainColor":"#868686","grid":false,
"title":"kb/day","titleFont":"Lato","titleFontSize":25,"titleFontWeight":"bold","titleColor":"#000000","titleAngle":0,"titleAlign":"left","titleBaseline":"alphabetic","titleX":-139,"titleY":-29}},
"color":{"field":"c","type":"nominal","legend":null,"scale":{"domain":[1,2,3,4,5,6,7,8,9,10,11,12,13,14,15,16,17,18,19,20,21,22,23,24,25,26,27,28,29,30,31,32,33,34,35,36,37,38,39,40,41,42,43,44,45,46,47,48,49,50,51,52,53,54,55,56,57,58,59,60,61,62,63,64,65,66,67],
"range":["#9BBB59","#8064A2","#4BACC6","#F79646","#4F81BD","#C0504D","#9BBB59","#8064A2","#4BACC6","#F79646","#4F81BD","#C0504D","#9BBB59","#8064A2","#4BACC6","#F79646","#4F81BD","#C0504D","#9BBB59","#8064A2","#4BACC6","#F79646","#4F81BD","#C0504D","#9BBB59","#8064A2","#4BACC6","#F79646","#4F81BD","#C0504D","#9BBB59","#8064A2","#4BACC6","#F79646","#4F81BD","#C0504D","#C3D69B","#B3A2C7","#93CDDD","#FAC090","#95B3D7","#D99694","#C3D69B","#B3A2C7","#93CDDD","#FAC090","#95B3D7","#D99694","#C3D69B","#B3A2C7","#93CDDD","#FAC090","#95B3D7","#D99694","#C3D69B","#B3A2C7","#93CDDD","#FAC090","#95B3D7","#D99694","#254061","#632523","#B7DEE8","#FCD5B5","#B9CDE5","#E6B9B8","#D7E4BD"]}},
"order":{"field":"c","type":"quantitative","sort":"ascending"}
}
},
{
"data":{"values":[{"t":"100 new wells/month","x":73.6,"y":842},{"t":"IP:","x":73.6,"y":772},{"t":"10 kb/month","x":87.4,"y":772},{"t":"Decline: 5 % p.month","x":73.6,"y":703}]},
"mark":{"type":"text","align":"left","baseline":"alphabetic","font":"Lato","fontSize":28,"color":"#000000"},
"encoding":{
"x":{"field":"x","type":"quantitative","scale":{"domain":[1,120],"nice":false,"zero":false}},
"y":{"field":"y","type":"quantitative","scale":{"domain":[0,900],"nice":false}},
"text":{"field":"t","type":"nominal"}
}
}
]
}
